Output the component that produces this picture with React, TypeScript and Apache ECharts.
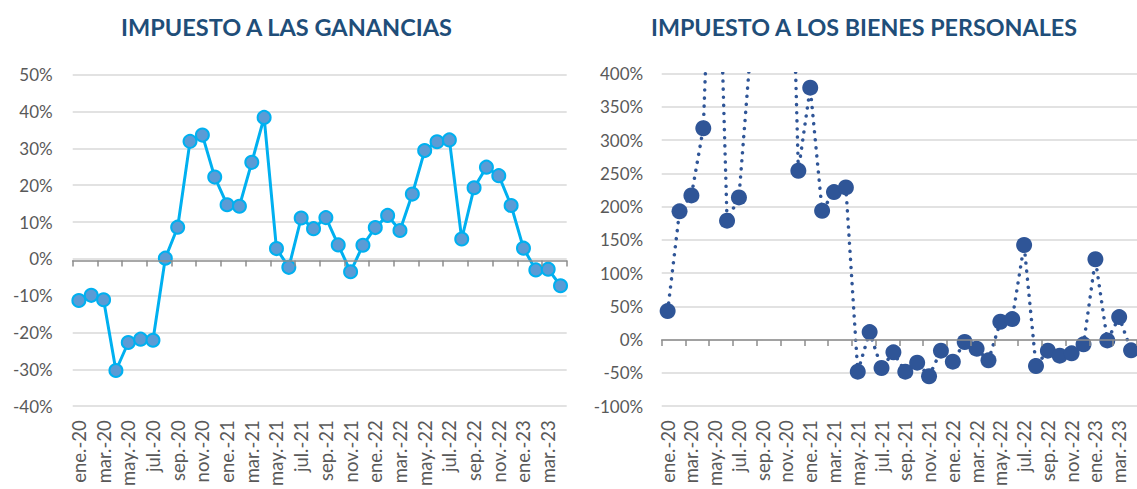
import React, { useEffect, useRef } from "react";
import * as echarts from "echarts";

const monthAbbr = ["ene.", "feb.", "mar.", "abr.", "may.", "jun.", "jul.", "ago.", "sep.", "oct.", "nov.", "dic."];
const years = ["20", "21", "22", "23"];
const categories: string[] = [];
years.forEach((y) => monthAbbr.forEach((m) => categories.push(`${m}-${y}`)));
categories.splice(40);

const titleGanancias = "IMPUESTO A LAS GANANCIAS";
const titleBienes = "IMPUESTO A LOS BIENES PERSONALES";

const ganancias = [
  -11.3, -9.9, -11.1, -30.3, -22.7, -21.8, -22.1, 0.2, 8.6, 31.9, 33.6, 22.2,
  14.7, 14.3, 26.2, 38.4, 2.8, -2.3, 11.1, 8.2, 11.2, 3.8, -3.5, 3.7,
  8.5, 11.8, 7.7, 17.6, 29.4, 31.8, 32.3, 5.4, 19.3, 24.9, 22.6, 14.5,
  2.9, -3.0, -2.8, -7.3,
];

const bienesPersonales = [
  43, 193, 217, 318, 790, 179, 214, 440, 600, 750, 900, 254,
  379, 194, 222, 229, -48, 11.5, -42.5, -19, -48, -34.5, -55, -16.5,
  -33, -3.5, -13.5, -31, 27, 31, 142.5, -39.5, -16.5, -24, -20.5, -7,
  121, -1, 34, -16,
];

const gananciasAxis = { min: -40, max: 50, interval: 10 };
const bienesAxis = { min: -100, max: 400, interval: 50 };

const FONT = "Lato, 'Open Sans', sans-serif";
const labelColor = "#595959";

// plot rectangles
const G0 = { left: 72.7, top: 74.7, width: 494, height: 334.6 };
const G1 = { left: 661.7, top: 73.7, width: 484, height: 333 };

export default function App() {
  const ref = useRef<HTMLDivElement>(null);
  useEffect(() => {
    if (!ref.current) return;
    const chart = echarts.init(ref.current, undefined, { renderer: "svg" });

    const zeroFrac = (cfg: any) => cfg.max / (cfg.max - cfg.min);

    const xLabelAxis = (gridIndex: number) => ({
      gridIndex,
      type: "category",
      data: categories,
      position: "bottom",
      boundaryGap: true,
      axisLine: { show: false, onZero: false },
      axisTick: { show: false },
      splitLine: { show: false },
      axisLabel: {
        interval: 1,
        rotate: 90,
        margin: 14,
        fontSize: 18.5,
        color: labelColor,
        fontFamily: FONT,
      },
    });
    const xZeroAxis = (gridIndex: number) => ({
      gridIndex,
      type: "category",
      data: categories,
      position: "bottom",
      boundaryGap: true,
      axisLine: { show: true, onZero: false, lineStyle: { color: "#8C8C8C", width: 1.5 } },
      axisTick: {
        show: true,
        inside: false,
        interval: 1,
        alignWithLabel: false,
        length: 6,
        lineStyle: { color: "#8C8C8C", width: 1.5 },
      },
      axisLabel: { show: false, interval: 1 },
      splitLine: { show: false },
      z: 5,
    });
    const yAxis = (gridIndex: number, cfg: any, margin: number) => ({
      gridIndex,
      type: "value",
      min: cfg.min,
      max: cfg.max,
      interval: cfg.interval,
      axisLine: { show: false },
      axisTick: { show: false },
      splitLine: { lineStyle: { color: "#D9D9D9", width: 1.5 } },
      axisLabel: {
        formatter: "{value}%",
        margin,
        fontSize: 17,
        color: labelColor,
        fontFamily: FONT,
      },
    });
    const hiddenY = (gridIndex: number) => ({
      gridIndex,
      type: "value",
      show: false,
      splitLine: { show: false },
    });

    chart.setOption({
      animation: false,
      backgroundColor: "#ffffff",
      textStyle: { fontFamily: FONT },
      grid: [
        G0,
        G1,
        { left: G0.left, width: G0.width, top: G0.top, height: G0.height * zeroFrac(gananciasAxis) },
        { left: G1.left, width: G1.width, top: G1.top, height: G1.height * zeroFrac(bienesAxis) },
      ],
      xAxis: [xLabelAxis(0), xLabelAxis(1), xZeroAxis(2), xZeroAxis(3)],
      yAxis: [yAxis(0, gananciasAxis, 20), yAxis(1, bienesAxis, 18.5), hiddenY(2), hiddenY(3)],
      graphic: [
        {
          type: "text",
          x: 286.5,
          y: 27,
          style: {
            text: titleGanancias,
            fill: "#1F4E79",
            font: `bold 23.5px ${FONT}`,
            textAlign: "center",
            textVerticalAlign: "middle",
          },
        },
        {
          type: "text",
          x: 864,
          y: 27,
          style: {
            text: titleBienes,
            fill: "#1F4E79",
            font: `bold 23.3px ${FONT}`,
            textAlign: "center",
            textVerticalAlign: "middle",
          },
        },
      ],
      series: [
        {
          type: "line",
          xAxisIndex: 0,
          yAxisIndex: 0,
          data: ganancias,
          symbol: "circle",
          symbolSize: 13,
          showAllSymbol: true,
          lineStyle: { color: "#00B0F0", width: 3 },
          itemStyle: { color: "#5B9BD5", borderColor: "#00B0F0", borderWidth: 2 },
          z: 3,
        },
        {
          type: "line",
          xAxisIndex: 1,
          yAxisIndex: 1,
          data: bienesPersonales,
          symbol: "circle",
          symbolSize: 16,
          showAllSymbol: true,
          clip: true,
          lineStyle: { color: "#2F5597", width: 3.5, type: [0.1, 8], cap: "round" },
          itemStyle: { color: "#2F5597" },
          z: 3,
        },
      ],
    });
    return () => chart.dispose();
  }, []);
  return (
    <div
      ref={ref}
      style={{ position: "fixed", left: 0, top: 0, width: 1137, height: 489, background: "#fff" }}
    />
  );
}
